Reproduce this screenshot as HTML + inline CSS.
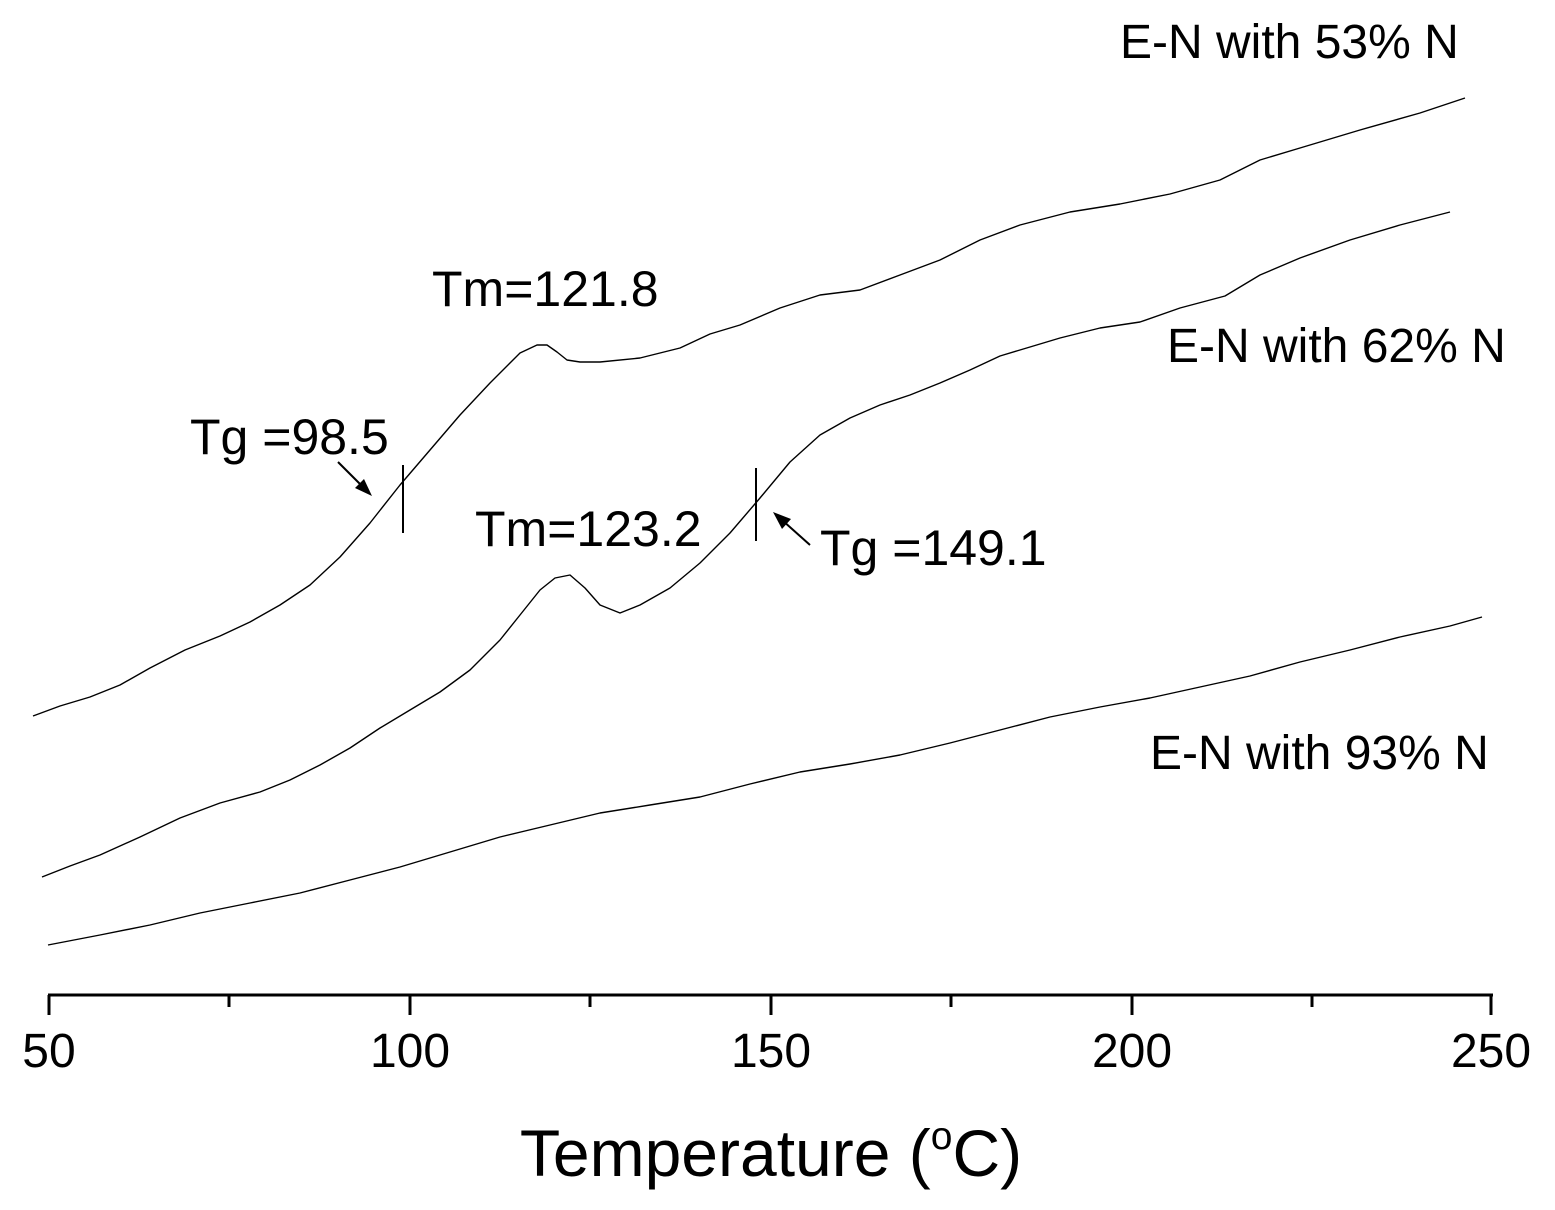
<!DOCTYPE html>
<html><head><meta charset="utf-8"><style>
html,body{margin:0;padding:0;background:#fff}
svg{display:block}
text{font-family:"Liberation Sans",Arial,sans-serif;fill:#000}
</style></head><body>
<svg width="1555" height="1210" viewBox="0 0 1555 1210" xmlns="http://www.w3.org/2000/svg">
<g fill="none" stroke="#000" stroke-width="1.4" stroke-linejoin="round">
<polyline points="33,716 60,706 90,697 120,685 150,668 185,650 220,636 250,622 280,605 310,585 340,557 370,523 400,485 430,450 460,415 490,383 520,353 537,345 547,345 557,352 567,360 580,362 600,362 640,358 680,348 710,334 740,325 780,308 820,295 860,290 900,275 940,260 980,240 1020,225 1070,212 1120,204 1170,194 1220,180 1260,160 1300,148 1360,130 1420,113 1465,98"/>
<polyline points="42,877 70,866 100,855 140,837 180,818 220,803 260,792 290,780 320,765 350,748 380,728 410,710 440,692 470,670 500,640 520,615 540,590 555,578 570,575 585,588 600,605 620,613 640,605 670,588 700,563 730,533 760,498 790,462 820,435 850,418 880,405 910,395 940,383 970,370 1000,356 1030,347 1060,338 1100,328 1140,322 1180,308 1225,296 1260,275 1300,258 1350,240 1400,225 1450,212"/>
<polyline points="48,945 100,935 150,925 200,913 250,903 300,893 350,880 400,867 450,852 500,837 550,825 600,813 650,805 700,797 750,784 800,772 850,764 900,755 950,743 1000,730 1050,717 1100,707 1150,698 1200,687 1250,676 1300,662 1350,650 1400,637 1450,626 1482,617"/>
</g>
<g stroke="#000" stroke-width="2">
<line x1="403" y1="465" x2="403" y2="533"/>
<line x1="756" y1="468" x2="756" y2="541"/>
<line x1="338" y1="462" x2="362" y2="486"/>
<line x1="810" y1="545" x2="782" y2="520"/>
</g>
<polygon points="372,496 355,488 364,479" fill="#000"/>
<polygon points="773,512 791,519 782,529" fill="#000"/>
<g stroke="#000" stroke-width="3">
<line x1="48" y1="995" x2="1493" y2="995"/>
<line x1="49" y1="995" x2="49" y2="1015"/>
<line x1="410" y1="995" x2="410" y2="1015"/>
<line x1="771" y1="995" x2="771" y2="1015"/>
<line x1="1132" y1="995" x2="1132" y2="1015"/>
<line x1="1491" y1="995" x2="1491" y2="1015"/>
<line x1="229" y1="995" x2="229" y2="1007"/>
<line x1="590" y1="995" x2="590" y2="1007"/>
<line x1="951" y1="995" x2="951" y2="1007"/>
<line x1="1312" y1="995" x2="1312" y2="1007"/>
</g>
<g font-size="48" text-anchor="middle">
<text x="49" y="1067">50</text>
<text x="410" y="1067">100</text>
<text x="771" y="1067">150</text>
<text x="1132" y="1067">200</text>
<text x="1491" y="1067">250</text>
</g>
<text x="771" y="1176" font-size="66" text-anchor="middle">Temperature (<tspan font-size="39" dy="-27">o</tspan><tspan dy="27">C)</tspan></text>
<g font-size="50">
<text x="190" y="454">Tg =98.5</text>
<text x="432" y="306">Tm=121.8</text>
<text x="475" y="546">Tm=123.2</text>
<text x="820" y="565">Tg =149.1</text>
</g>
<g font-size="48">
<text x="1120" y="58">E-N with 53% N</text>
<text x="1167" y="362">E-N with 62% N</text>
<text x="1150" y="769">E-N with 93% N</text>
</g>
</svg>
</body></html>
